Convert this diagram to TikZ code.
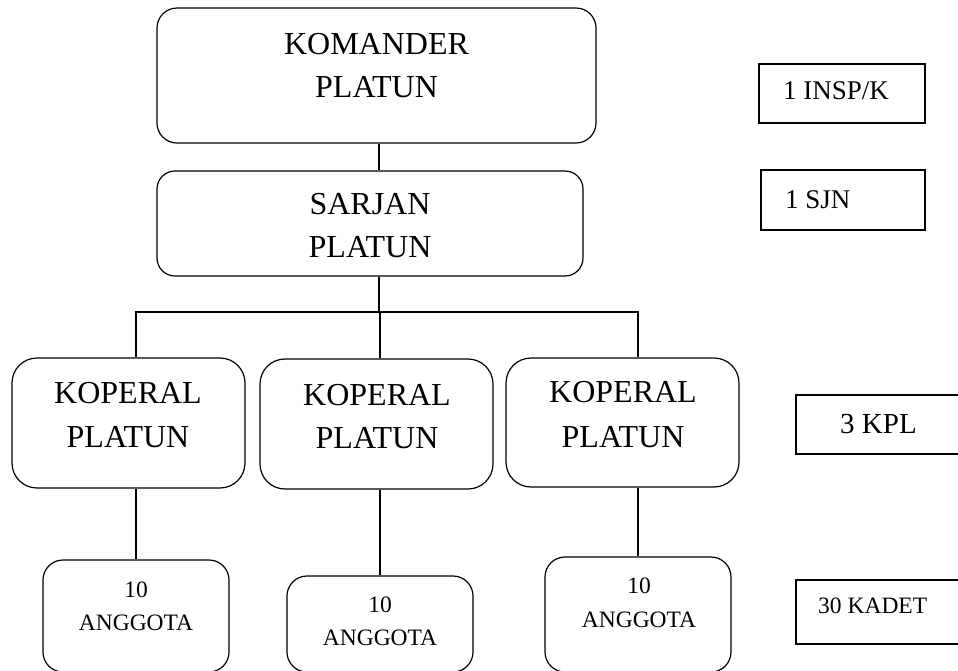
\documentclass[tikz,border=0pt]{standalone}
\usepackage{fontspec}
\setmainfont{Liberation Serif}
\begin{document}
\begin{tikzpicture}[x=1pt,y=-1pt,
  box/.style={draw=black,line width=1.2pt,rectangle,inner sep=0pt},
  rbox/.style={box,rounded corners=#1},
  link/.style={draw=black,line width=1.2pt},
  big/.style={anchor=base,inner sep=0pt,font=\fontsize{32}{38}\selectfont},
  mid/.style={anchor=base west,inner sep=0pt,font=\fontsize{27}{32}\selectfont},
  small/.style={anchor=base,inner sep=0pt,font=\fontsize{23.5}{28}\selectfont}]
\path[use as bounding box,clip] (0,0) rectangle (958,670);

% boxes
\node[rbox=20pt,minimum width=439pt,minimum height=135pt] (kom) at (376.5,75.5) {};
\node[rbox=18pt,minimum width=426pt,minimum height=105pt] (sar) at (370,223.5) {};
\node[rbox=25pt,minimum width=233pt,minimum height=130pt] (kp1) at (128.5,423) {};
\node[rbox=25pt,minimum width=233pt,minimum height=130pt] (kp2) at (376.5,424) {};
\node[rbox=25pt,minimum width=233pt,minimum height=129pt] (kp3) at (622.5,422.5) {};
\node[rbox=20pt,minimum width=186pt,minimum height=112pt] (ag1) at (136,616) {};
\node[rbox=20pt,minimum width=186pt,minimum height=96pt] (ag2) at (380,624) {};
\node[rbox=20pt,minimum width=186pt,minimum height=115pt] (ag3) at (638,614.5) {};
\node[box,minimum width=166pt,minimum height=59pt] (insp) at (842,93.5) {};
\node[box,minimum width=164pt,minimum height=60pt] (sjn) at (843,200) {};
\node[box,minimum width=184pt,minimum height=59pt] (kpl) at (888,424.5) {};
\node[box,minimum width=184pt,minimum height=64pt] (kadet) at (888,612) {};

% texts
\node[big] (komA) at (376.5,54) {KOMANDER};
\node[big] (komB) at (376.5,97) {PLATUN};
\node[big] (sarA) at (370,214) {SARJAN};
\node[big] (sarB) at (370,257) {PLATUN};
\node[big] (kp1A) at (128,403) {KOPERAL};
\node[big] (kp1B) at (128,447) {PLATUN};
\node[big] (kp2A) at (377,405) {KOPERAL};
\node[big] (kp2B) at (377,448) {PLATUN};
\node[big] (kp3A) at (623,402) {KOPERAL};
\node[big] (kp3B) at (623,447) {PLATUN};
\node[small] (ag1A) at (136,597) {10};
\node[small] (ag1B) at (136,630) {ANGGOTA};
\node[small] (ag2A) at (380,612) {10};
\node[small] (ag2B) at (380,645) {ANGGOTA};
\node[small] (ag3A) at (639,593) {10};
\node[small] (ag3B) at (639,627) {ANGGOTA};
\node[mid] (inspT) at (783,99) {1 INSP/K};
\node[mid] (sjnT) at (785,208) {1 SJN};
\node[mid,font=\fontsize{29}{34}\selectfont] (kplT) at (840,433) {3 KPL};
\node[small,anchor=base west] (kadetT) at (818,613) {30 KADET};

% connectors
\coordinate (trunk) at (379,312);
\draw[link] (trunk |- kom.south) -- (trunk |- sar.north);
\draw[link] (trunk |- sar.south) -- (trunk);
\draw[link] (ag1.north |- kp1.north) -- (ag1.north |- trunk) -- (ag3.north |- trunk) -- (ag3.north |- kp3.north);
\draw[link] (ag2.north |- trunk) -- (ag2.north |- kp2.north);
\draw[link] (ag1.north |- kp1.south) -- (ag1.north);
\draw[link] (ag2.north |- kp2.south) -- (ag2.north);
\draw[link] (ag3.north |- kp3.south) -- (ag3.north);
\end{tikzpicture}
\end{document}
